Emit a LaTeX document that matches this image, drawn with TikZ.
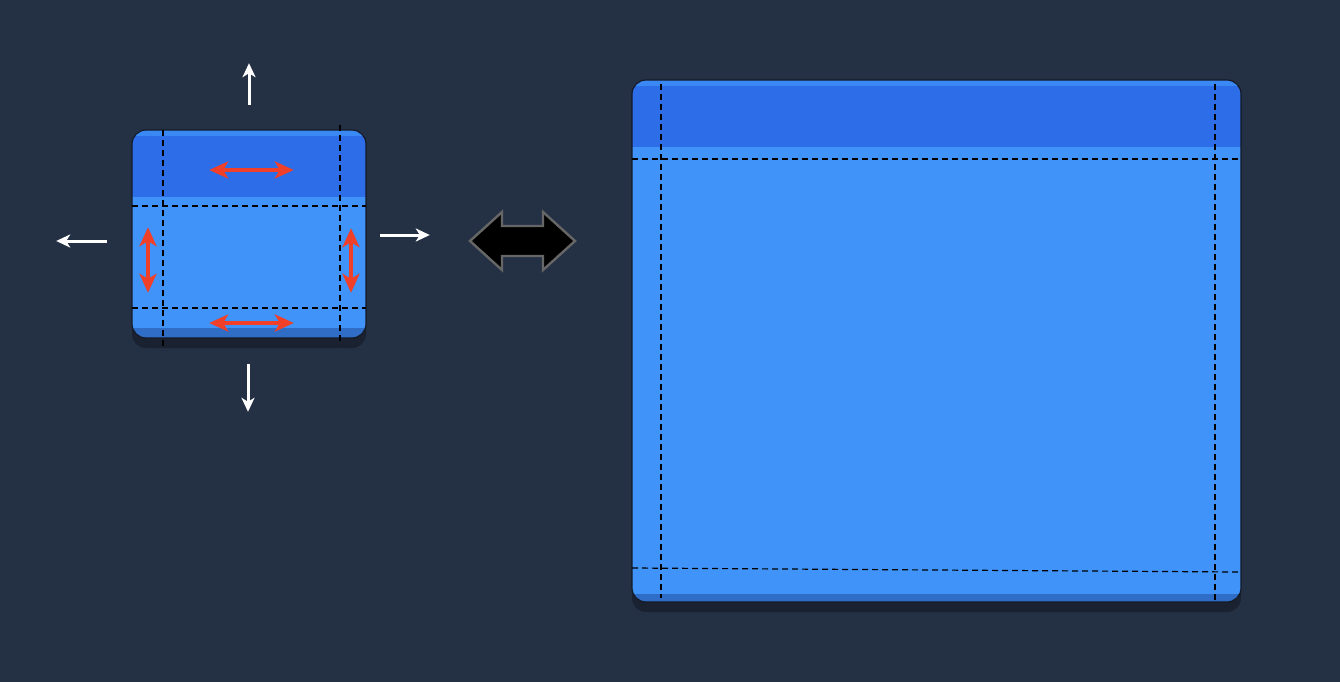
\documentclass[tikz,border=0pt]{standalone}
\usetikzlibrary{arrows.meta}
\definecolor{bgnavy}{HTML}{243145}
\definecolor{bandblue}{HTML}{2D6DE8}
\definecolor{bodyblue}{HTML}{3F93F9}
\definecolor{lipblue}{HTML}{2F6DC6}
\definecolor{shadenavy}{HTML}{1A2231}
\definecolor{edgenavy}{HTML}{141A26}
\definecolor{resizered}{HTML}{F0402A}
\definecolor{swapgray}{HTML}{666666}
\tikzset{
	panel_shadow/.style = {
		fill=shadenavy,
		rounded corners=14pt
	},
	panel_edge/.style = {
		draw=edgenavy,
		line width=1.2pt,
		rounded corners=14pt
	},
	guide/.style = {
		draw=black,
		line width=1.2pt,
		dash pattern=on 6pt off 4pt
	},
	resize_arrow/.style = {
		draw=resizered,
		line width=3.4pt,
		{Stealth[inset=5pt,length=19pt,width=17pt]}-{Stealth[inset=5pt,length=19pt,width=17pt]}
	},
	grow_arrow/.style = {
		draw=white,
		line width=3pt,
		-{Stealth[inset=4pt,length=14pt,width=13pt]}
	},
	swap_arrow/.style = {
		fill=black,
		draw=swapgray,
		line width=2.4pt,
		line join=miter
	},
	marker/.style = {
		inner sep=0pt,
		minimum size=0pt
	}
}

\begin{document}
\begin{tikzpicture}[x=1pt,y=-1pt]
\useasboundingbox[fill=bgnavy] (0,0) rectangle (1340,682);

% small window
\fill[panel_shadow] (132,140) rectangle (366,348);
\begin{scope}
	\clip[rounded corners=14pt] (132,130) rectangle (366,338);
	\fill[bodyblue] (132,130) rectangle (366,338);
	\fill[bandblue] (132,130) rectangle (366,197);
	\fill[bodyblue!70!bandblue] (132,130) rectangle (366,136);
	\fill[lipblue] (132,328) rectangle (366,338);
\end{scope}
\draw[panel_edge] (132,130) rectangle (366,338);

\coordinate (sgl1) at (132,206);
\coordinate (sgl2) at (366,206);
\coordinate (sgl3) at (132,308);
\coordinate (sgl4) at (366,308);
\coordinate (sgl5) at (163,130);
\coordinate (sgl6) at (163,350);
\coordinate (sgl7) at (340,125);
\coordinate (sgl8) at (340,345);
\draw[guide] (sgl1) -- (sgl2);
\draw[guide] (sgl3) -- (sgl4);
\draw[guide] (sgl5) -- (sgl6);
\draw[guide] (sgl7) -- (sgl8);

% resize handles
\node[marker] (rt_a) at (209,170) {};
\node[marker] (rt_b) at (294,170) {};
\node[marker] (rb_a) at (209,323) {};
\node[marker] (rb_b) at (294,323) {};
\node[marker] (rl_a) at (148,227) {};
\node[marker] (rl_b) at (148,293) {};
\node[marker] (rr_a) at (351,228) {};
\node[marker] (rr_b) at (351,293) {};
\draw[resize_arrow] (rt_a) -- (rt_b);
\draw[resize_arrow] (rb_a) -- (rb_b);
\draw[resize_arrow] (rl_a) -- (rl_b);
\draw[resize_arrow] (rr_a) -- (rr_b);

% growth directions
\node[marker] (up_a) at (249,105) {};
\node[marker] (up_b) at (249,63) {};
\node[marker] (dn_a) at (248,364) {};
\node[marker] (dn_b) at (248,412) {};
\node[marker] (lf_a) at (107,241) {};
\node[marker] (lf_b) at (56,241) {};
\node[marker] (rg_a) at (380,235) {};
\node[marker] (rg_b) at (430,235) {};
\draw[grow_arrow] (up_a) -- (up_b);
\draw[grow_arrow] (dn_a) -- (dn_b);
\draw[grow_arrow] (lf_a) -- (lf_b);
\draw[grow_arrow] (rg_a) -- (rg_b);

% swap arrow
\draw[swap_arrow] (470,241) -- (502,212) -- (502,226) -- (543,226) -- (543,212)
	-- (575,241) -- (543,270) -- (543,256) -- (502,256) -- (502,270) -- cycle;

% large window
\fill[panel_shadow] (632,92) rectangle (1241,612);
\begin{scope}
	\clip[rounded corners=14pt] (632,80) rectangle (1241,602);
	\fill[bodyblue] (632,80) rectangle (1241,602);
	\fill[bandblue] (632,80) rectangle (1241,147);
	\fill[bodyblue!70!bandblue] (632,80) rectangle (1241,86);
	\fill[lipblue] (632,594) rectangle (1241,602);
\end{scope}
\draw[panel_edge] (632,80) rectangle (1241,602);

\coordinate (lgl1) at (632,159);
\coordinate (lgl2) at (1241,159);
\coordinate (lgl3) at (632,568);
\coordinate (lgl4) at (1238,572);
\coordinate (lgl5) at (661,84);
\coordinate (lgl6) at (661,598);
\coordinate (lgl7) at (1215,84);
\coordinate (lgl8) at (1215,602);
\draw[guide] (lgl1) -- (lgl2);
\draw[guide] (lgl3) -- (lgl4);
\draw[guide] (lgl5) -- (lgl6);
\draw[guide] (lgl7) -- (lgl8);
\end{tikzpicture}
\end{document}
